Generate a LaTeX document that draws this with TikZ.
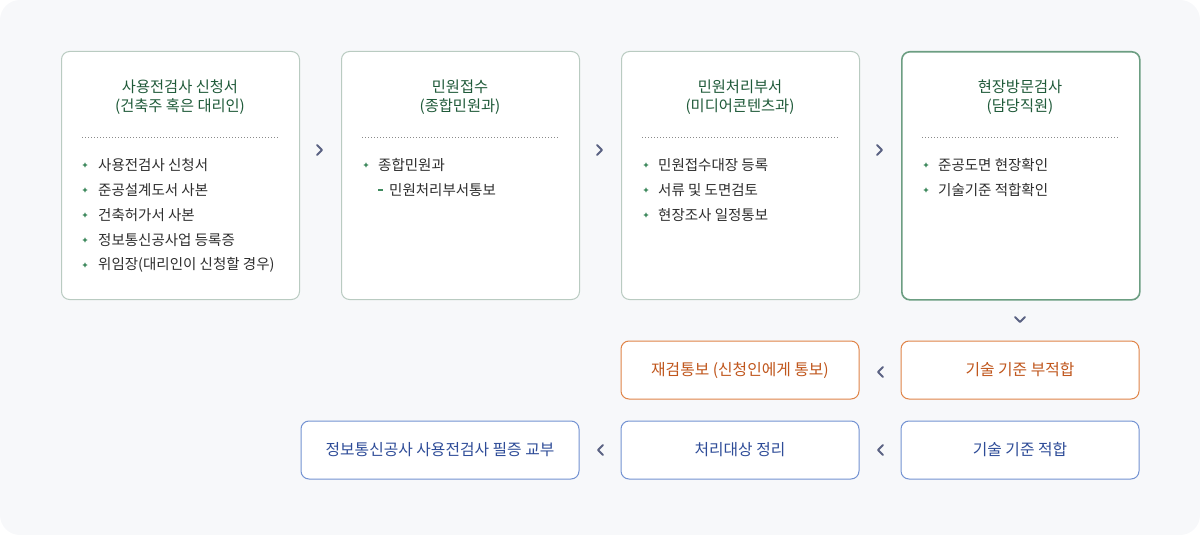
\documentclass[tikz,border=0pt]{standalone}
\usepackage{fontspec}
\setmainfont{Noto Sans CJK KR}
\definecolor{bg}{HTML}{F7F8FA}
\definecolor{boxgray}{HTML}{B9CBC1}
\definecolor{boxgreen}{HTML}{6C9E82}
\definecolor{titlegreen}{HTML}{1F5A39}
\definecolor{bulletgreen}{HTML}{3F8A5E}
\definecolor{textgray}{HTML}{2E2E2E}
\definecolor{chev}{HTML}{5B6283}
\definecolor{orangeb}{HTML}{E08448}
\definecolor{oranget}{HTML}{C0561C}
\definecolor{blueb}{HTML}{7392D2}
\definecolor{bluet}{HTML}{2E4C98}
\definecolor{dotgray}{HTML}{8A8A8A}
\begin{document}
\begin{tikzpicture}[x=1pt,y=-1pt,
  stagebox/.style={draw=boxgray,line width=1pt,fill=white,rounded corners=8pt,minimum width=238pt,minimum height=248pt,anchor=north west,inner sep=0pt},
  finalbox/.style={stagebox,draw=boxgreen,line width=1.6pt},
  resultO/.style={draw=orangeb,line width=1pt,fill=white,rounded corners=8pt,minimum width=238pt,minimum height=58pt,inner sep=0pt,text=oranget,font=\fontsize{15.8}{18}\selectfont},
  resultB/.style={resultO,draw=blueb,text=bluet},
  ttl/.style={text=titlegreen,font=\fontsize{15.3}{19.5}\selectfont,align=center},
  item/.style={text=textgray,font=\fontsize{14.5}{16}\selectfont,anchor=west,inner sep=0pt},
  dotline/.style={draw=dotgray,line width=0.8pt,dash pattern=on 0.8pt off 2.2pt},
  chevron/.style={draw=chev,line width=1.8pt,line cap=round,line join=round}
]
\useasboundingbox (0,0) rectangle (1200,535);
\fill[bg,rounded corners=20pt] (0,0) rectangle (1200,535);

% top boxes
\node[stagebox] (b1) at (61,51) {};
\node[stagebox] (b2) at (341,51) {};
\node[stagebox] (b3) at (621,51) {};
\node[finalbox] (b4) at (901,51) {};

% titles
\node[ttl] (t1) at (180,97) {사용전검사 신청서\\(건축주 혹은 대리인)};
\node[ttl] (t2) at (460,97) {민원접수\\(종합민원과)};
\node[ttl] (t3) at (740,97) {민원처리부서\\(미디어콘텐츠과)};
\node[ttl] (t4) at (1020,97) {현장방문검사\\(담당직원)};

% dotted lines
\foreach \x in {82,362,642,922}{
  \draw[dotline] (\x,137.5) -- ++(197,0);
}

% bullet macro
\newcommand{\bul}[2]{%
  \fill[bulletgreen] (#1,#2) +(0,-2.6) -- +(0.9,-0.9) -- +(2.6,0) -- +(0.9,0.9) -- +(0,2.6) -- +(-0.9,0.9) -- +(-2.6,0) -- +(-0.9,-0.9) -- cycle;}

% box 1 items
\foreach \y/\t [count=\i] in {165/사용전검사 신청서,190/준공설계도서 사본,215/건축허가서 사본,240/정보통신공사업 등록증,265/위임장(대리인이 신청할 경우)}{
  \bul{85}{\y}
  \node[item] (i1\i) at (98,\y) {\t};
}
% box 2 items
\bul{366}{165}
\node[item] (i21) at (378,165) {종합민원과};
\fill[bulletgreen] (378,189.3) rectangle (383,190.7);
\node[item] (i22) at (389,190) {민원처리부서통보};
% box 3 items
\foreach \y/\t [count=\i] in {165/민원접수대장 등록,190/서류 및 도면검토,215/현장조사 일정통보}{
  \bul{646}{\y}
  \node[item] (i3\i) at (658,\y) {\t};
}
% box 4 items
\foreach \y/\t [count=\i] in {165/준공도면 현장확인,190/기술기준 적합확인}{
  \bul{926}{\y}
  \node[item] (i4\i) at (938,\y) {\t};
}

% result boxes
\node[resultO] (r1) at (1020,370) {\raisebox{-1.5pt}{기술 기준 부적합}};
\node[resultO] (r2) at (740,370) {\raisebox{-1.5pt}{재검통보 (신청인에게 통보)}};
\node[resultB] (r3) at (1020,450) {\raisebox{-1.5pt}{기술 기준 적합}};
\node[resultB] (r4) at (740,450) {\raisebox{-1.5pt}{처리대상 정리}};
\node[resultB,minimum width=278pt] (r5) at (440,450) {\raisebox{-1.5pt}{정보통신공사 사용전검사 필증 교부}};

% chevrons
\coordinate (c12) at (320,150);
\coordinate (c23) at (600,150);
\coordinate (c34) at (880,150);
\foreach \c in {c12,c23,c34}{
  \draw[chevron] ([shift={(-3,-5)}]\c) -- ([shift={(2,0)}]\c) -- ([shift={(-3,5)}]\c);
}
\coordinate (cd) at (1020,320);
\draw[chevron] ([shift={(-5,-3)}]cd) -- ([shift={(0,2)}]cd) -- ([shift={(5,-3)}]cd);
\coordinate (cl1) at (880,372);
\coordinate (cl2) at (880,450);
\coordinate (cl3) at (600,450);
\foreach \c in {cl1,cl2,cl3}{
  \draw[chevron] ([shift={(3,-5)}]\c) -- ([shift={(-2,0)}]\c) -- ([shift={(3,5)}]\c);
}
\end{tikzpicture}
\end{document}
